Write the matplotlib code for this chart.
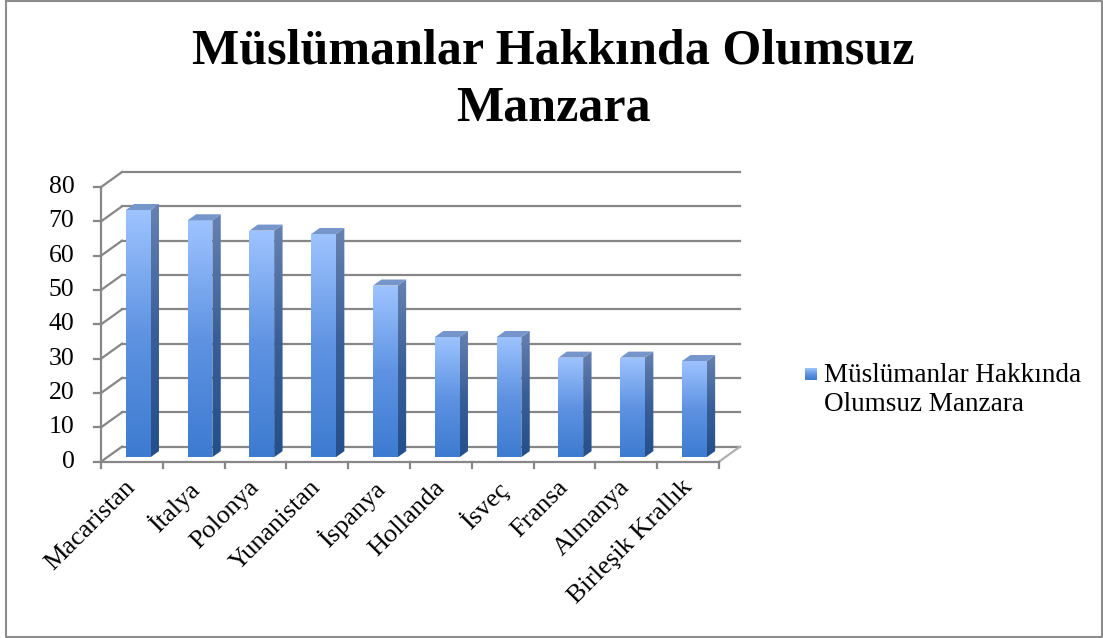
import matplotlib.pyplot as plt
import numpy as np
from matplotlib.patches import Polygon
from matplotlib.lines import Line2D
from matplotlib.colors import LinearSegmentedColormap

# data
countries = ["Macaristan", "İtalya", "Polonya", "Yunanistan", "İspanya",
             "Hollanda", "İsveç", "Fransa", "Almanya", "Birleşik Krallık"]
values = [72, 69, 66, 65, 50, 35, 35, 29, 29, 28]
yticks = [0, 10, 20, 30, 40, 50, 60, 70, 80]
title = "Müslümanlar Hakkında Olumsuz\nManzara"
series_name = "Müslümanlar Hakkında\nOlumsuz Manzara"

# fake 3d: depth offset of the back wall, in data units
DX, DY = 0.34, 4.39
BW = 0.40          # bar width (categories)
Z0, Z1 = 0.3, 0.7  # bar depth range
YMAX = yticks[-1]
N = len(countries)

GRID = '#878787'
FRONT = ('#3d7bd0', '#5f93e2', '#9ec4ff')
SIDE = ('#244f8a', '#3a5f98', '#6682b0')
TOP = '#7595cb'

plt.rcParams['font.family'] = ['Liberation Serif', 'DejaVu Serif']

fig = plt.figure(figsize=(11.03, 6.38), dpi=100)
ax = fig.add_axes([101 / 1103, (638 - 461.7) / 638, 639 / 1103, 289.7 / 638])
ax.set_xlim(0, N + DX)
ax.set_ylim(0, YMAX + DY)
ax.axis('off')


def grad_fill(xy, colors, z):
    poly = Polygon(xy, closed=True, fc='none', ec='none', zorder=z)
    ax.add_patch(poly)
    cmap = LinearSegmentedColormap.from_list('g', list(colors))
    xs = [p[0] for p in xy]
    ys = [p[1] for p in xy]
    im = ax.imshow(np.linspace(0, 1, 256).reshape(-1, 1), cmap=cmap, origin='lower',
                   extent=[min(xs), max(xs), min(ys), max(ys)], aspect='auto',
                   zorder=z, interpolation='bilinear')
    im.set_clip_path(poly)


# back wall grid + left wall diagonals
for v in yticks:
    ax.plot([DX, N + DX], [v + DY, v + DY], color=GRID, lw=1.6, zorder=1, clip_on=False)
    ax.plot([0, DX], [v, v + DY], color=GRID, lw=1.6, zorder=1, clip_on=False)

# floor front edge, right edge, front axis
ax.plot([0, N], [0, 0], color=GRID, lw=1.6, zorder=1, clip_on=False)
ax.plot([N, N + DX], [0, DY], color='#b0b0b0', lw=1.6, zorder=1, clip_on=False)
ax.plot([0, 0], [0, YMAX], color=GRID, lw=1.6, zorder=1, clip_on=False)

# y ticks and labels
for v in yticks:
    ax.plot([-0.12, 0], [v, v], color=GRID, lw=1.6, clip_on=False)
    ax.text(-0.43, v, str(v), ha='right', va='center', fontsize=18.5)

# x ticks and category labels
for i in range(N + 1):
    ax.plot([i, i], [0, -1.8], color=GRID, lw=1.6, clip_on=False)
for i, name in enumerate(countries):
    ax.text(i + 0.5 - 0.12, -4.2, name, rotation=45, rotation_mode='anchor',
            ha='right', va='top', fontsize=19)

# bars
d = Z1 - Z0
for i, v in enumerate(values):
    x0 = i + 0.5 - BW / 2 + Z0 * DX
    y0 = Z0 * DY
    x1 = x0 + BW
    front = [(x0, y0), (x1, y0), (x1, y0 + v), (x0, y0 + v)]
    side = [(x1, y0), (x1 + d * DX, y0 + d * DY), (x1 + d * DX, y0 + v + d * DY), (x1, y0 + v)]
    top = [(x0, y0 + v), (x1, y0 + v), (x1 + d * DX, y0 + v + d * DY), (x0 + d * DX, y0 + v + d * DY)]
    grad_fill(front, FRONT, 3)
    grad_fill(side, SIDE, 3)
    ax.add_patch(Polygon(top, closed=True, fc=TOP, ec='none', zorder=4))

ax.set_xlim(0, N + DX)
ax.set_ylim(0, YMAX + DY)

# legend
lax = fig.add_axes([805 / 1103, (638 - 380) / 638, 12 / 1103, 12 / 638])
lax.imshow(np.linspace(0, 1, 64).reshape(-1, 1),
           cmap=LinearSegmentedColormap.from_list('l', list(FRONT)),
           origin='lower', aspect='auto', extent=[0, 1, 0, 1])
lax.axis('off')
fig.text(824 / 1103, (638 - 390) / 638, series_name, ha='left', va='center',
         fontsize=19.5, linespacing=1.25)

fig.text(0.502, (638 - 80) / 638, title, ha='center', va='center',
         fontsize=36, fontweight='bold', linespacing=1.32)

# outer frame
fx = [6 / 1103, 6 / 1103, 1101.5 / 1103, 1101.5 / 1103, 6 / 1103]
fy = [0.999, 1 / 638, 1 / 638, 0.999, 0.999]
fig.add_artist(Line2D(fx, fy, transform=fig.transFigure, color='#8c8c8c', lw=1.5))

fig.savefig('out.png', dpi=100)
